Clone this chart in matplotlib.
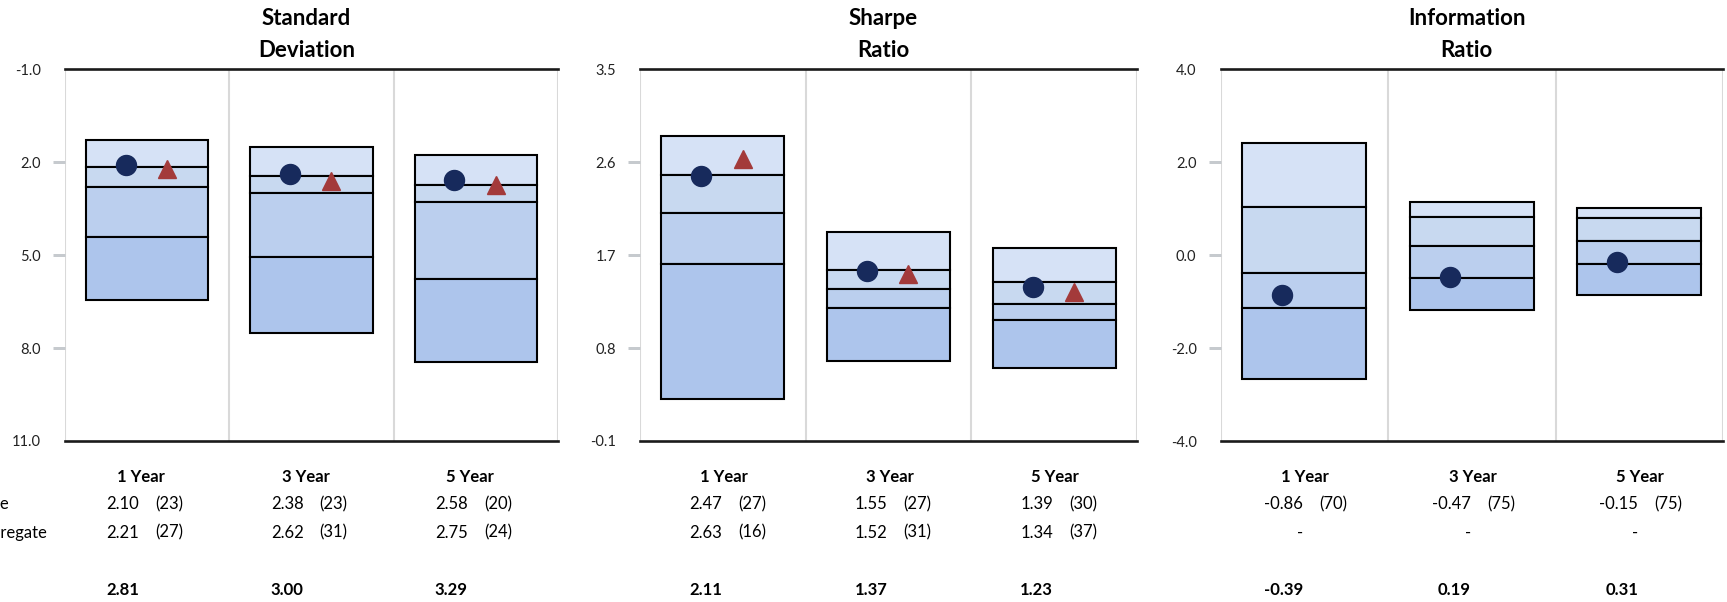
import matplotlib.pyplot as plt
import matplotlib.transforms as mtransforms

plt.rcParams['font.family'] = ['Lato', 'DejaVu Sans']

# === DATA ===
periods = ["1 Year", "3 Year", "5 Year"]
row_labels = ["Composite", "Bloomberg US Aggregate"]
titles = [["Standard", "Deviation"], ["Sharpe", "Ratio"], ["Information", "Ratio"]]

# percentile bands per period, listed from best (top of box) to worst (bottom)
sd_bands = [[1.27, 2.17, 2.81, 4.42, 6.46],
            [1.51, 2.43, 3.00, 5.05, 7.50],
            [1.77, 2.75, 3.29, 5.76, 8.45]]
sharpe_bands = [[2.85, 2.48, 2.11, 1.61, 0.31],
                [1.92, 1.56, 1.37, 1.19, 0.67],
                [1.77, 1.44, 1.23, 1.07, 0.61]]
ir_bands = [[2.41, 1.04, -0.39, -1.13, -2.67],
            [1.14, 0.83, 0.19, -0.49, -1.17],
            [1.01, 0.79, 0.31, -0.19, -0.86]]

sd_fund = [2.10, 2.38, 2.58]
sd_fund_rank = [23, 23, 20]
sd_agg = [2.21, 2.62, 2.75]
sd_agg_rank = [27, 31, 24]

sharpe_fund = [2.47, 1.55, 1.39]
sharpe_fund_rank = [27, 27, 30]
sharpe_agg = [2.63, 1.52, 1.34]
sharpe_agg_rank = [16, 31, 37]

ir_fund = [-0.86, -0.47, -0.15]
ir_fund_rank = [70, 75, 75]
ir_agg = [None, None, None]
ir_agg_rank = [None, None, None]

sd_ticks = [-1.0, 2.0, 5.0, 8.0, 11.0]
sharpe_ticks = [-0.1, 0.8, 1.7, 2.6, 3.5]
ir_ticks = [-4.0, -2.0, 0.0, 2.0, 4.0]

panels = [
    (sd_bands, sd_fund, sd_fund_rank, sd_agg, sd_agg_rank, sd_ticks, True),
    (sharpe_bands, sharpe_fund, sharpe_fund_rank, sharpe_agg, sharpe_agg_rank, sharpe_ticks, False),
    (ir_bands, ir_fund, ir_fund_rank, ir_agg, ir_agg_rank, ir_ticks, False),
]

# === STYLE ===
W, H = 1727, 602
band_colors = ["#D6E2F6", "#C8D9F0", "#BBCFEE", "#ADC5EC"]
fund_color = "#172A5C"
agg_color = "#A33A3A"
grid_color = "#D9D9D9"
tick_color = "#C6CACE"
px = 0.72  # points per pixel at dpi 100

panel_left = [65, 640, 1220.5]
panel_width = [493, 497, 502.5]
ax_top, ax_bottom = 69.3, 441
table_shift = [-7, 0, 0]
row_y = [476.7, 504, 532.7, 590]

fig = plt.figure(figsize=(W / 100, H / 100), dpi=100)

for p, (bands, fund, fund_rank, agg, agg_rank, ticks, invert) in enumerate(panels):
    ax = fig.add_axes([panel_left[p] / W, (H - ax_bottom) / H,
                       panel_width[p] / W, (ax_bottom - ax_top) / H])
    ax.set_xlim(0, 3)
    if invert:
        ax.set_ylim(ticks[-1], ticks[0])
    else:
        ax.set_ylim(ticks[0], ticks[-1])

    for s in ax.spines.values():
        s.set_visible(False)

    # column separators and top/bottom rules
    for x in range(4):
        ax.axvline(x, color=grid_color, lw=1.5, zorder=0)
    ax.axhline(ticks[0], color="#1A1A1A", lw=1.9, clip_on=False, zorder=5)
    ax.axhline(ticks[-1], color="#1A1A1A", lw=1.9, clip_on=False, zorder=5)

    # stacked percentile boxes
    for i, b in enumerate(bands):
        for k in range(4):
            ax.bar(i + 0.5, b[k + 1] - b[k], width=0.743, bottom=b[k],
                   color=band_colors[k], edgecolor="black", linewidth=1.5, zorder=2)
        ax.plot(i + 0.5 - 0.13, fund[i], "o", ms=14.4, color=fund_color, zorder=4)
        if agg[i] is not None:
            ax.plot(i + 0.5 + 0.12, agg[i], "^", ms=13.5, color=agg_color, zorder=4)

    ax.set_xticks([])
    ax.set_yticks(ticks)
    ax.set_yticklabels([f"{t:.1f}" for t in ticks], fontsize=10.5)
    ax.tick_params(axis="y", length=12 * px, width=3 * px, color=tick_color,
                   pad=12 * px, labelcolor="#222222")
    yt = ax.yaxis.get_major_ticks()
    yt[0].tick1line.set_visible(False)
    yt[-1].tick1line.set_visible(False)

    # title
    ax.text(0.49, (ax_bottom - 18.3) / (ax_bottom - ax_top), titles[p][0],
            transform=ax.transAxes, ha="center", va="center",
            fontsize=16, fontweight="bold")
    ax.text(0.49, (ax_bottom - 50) / (ax_bottom - ax_top), titles[p][1],
            transform=ax.transAxes, ha="center", va="center",
            fontsize=16, fontweight="bold")

    # table under the panel
    base = mtransforms.blended_transform_factory(ax.transData, fig.transFigure)
    for i in range(3):
        sh = table_shift[p]
        t_head = mtransforms.offset_copy(base, fig=fig, x=(sh + 1) * px, units="points")
        t_val = mtransforms.offset_copy(base, fig=fig, x=(sh - 1) * px, units="points")
        t_rank = mtransforms.offset_copy(base, fig=fig, x=(sh + 15) * px, units="points")
        xc = i + 0.5
        ax.text(xc, 1 - row_y[0] / H, periods[i], transform=t_head, ha="center",
                va="center", fontsize=12, fontweight="bold")
        ax.text(xc, 1 - row_y[1] / H, f"{fund[i]:.2f}", transform=t_val, ha="right",
                va="center", fontsize=12)
        ax.text(xc, 1 - row_y[1] / H, f"({fund_rank[i]})", transform=t_rank, ha="left",
                va="center", fontsize=12)
        if agg[i] is not None:
            ax.text(xc, 1 - row_y[2] / H, f"{agg[i]:.2f}", transform=t_val, ha="right",
                    va="center", fontsize=12)
            ax.text(xc, 1 - row_y[2] / H, f"({agg_rank[i]})", transform=t_rank, ha="left",
                    va="center", fontsize=12)
        else:
            ax.text(xc, 1 - row_y[2] / H, "-", transform=t_val, ha="right",
                    va="center", fontsize=12)
        ax.text(xc, 1 - row_y[3] / H, f"{bands[i][2]:.2f}", transform=t_val, ha="right",
                va="center", fontsize=12, fontweight="bold")

# row labels (cut off by the left edge, as in the source)
fig.text(9 / W, 1 - row_y[1] / H, row_labels[0], ha="right", va="center", fontsize=12)
fig.text(47 / W, 1 - row_y[2] / H, row_labels[1], ha="right", va="center", fontsize=12)

fig.savefig("out.png", dpi=100)
